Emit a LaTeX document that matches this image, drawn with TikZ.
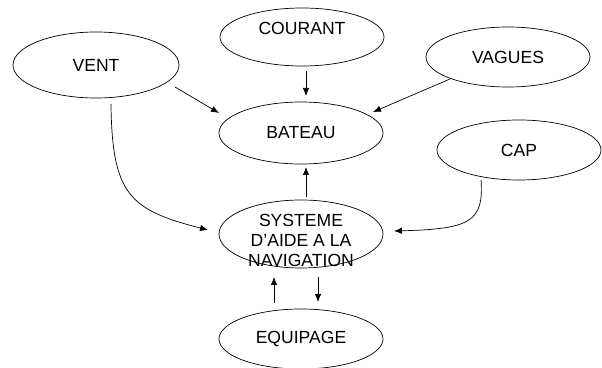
\documentclass[tikz,border=0pt]{standalone}
\usepackage{fontspec}
\setmainfont{Liberation Sans}
\usetikzlibrary{shapes.geometric,arrows.meta}
\begin{document}
\begin{tikzpicture}[x=0.25mm,y=-0.25mm,
  bubble/.style={ellipse,draw,line width=0.5pt,inner sep=0pt,minimum width=41mm,
    font=\fontsize{12.5}{14}\selectfont},
  >={Latex[length=2mm,width=1.6mm]},
  link/.style={->,line width=0.5pt}]
\useasboundingbox (0,0) rectangle (602,368);
\node[bubble,minimum height=14.5mm,label={[yshift=2.2mm,font=\fontsize{12.5}{14}\selectfont]center:COURANT}] (courant) at (302,37) {};
\node[bubble,minimum width=41.5mm,minimum height=16.5mm] (vent) at (96,65) {VENT};
\node[bubble,minimum height=15mm] (vagues) at (508,57) {VAGUES};
\node[bubble,minimum height=15.5mm] (bateau) at (301,133) {BATEAU};
\node[bubble,minimum height=15mm] (cap) at (519,150) {CAP};
\node[bubble,minimum height=17mm,label={[align=center,font=\fontsize{12.5}{14}\selectfont,yshift=-1.6mm]center:SYSTEME\\D'AIDE A LA\\NAVIGATION}] (systeme) at (301,234) {};
\node[bubble,minimum height=15mm] (equipage) at (301,339) {EQUIPAGE};
% free ends of the connectors
\coordinate (v1) at (175,87);   \coordinate (v2) at (219,113);
\coordinate (c1) at (306,71);   \coordinate (c2) at (306,96);
\coordinate (g1) at (450,79);   \coordinate (g2) at (373,112);
\coordinate (w1) at (111,104);  \coordinate (w2) at (208,230);
\coordinate (p1) at (481,180);  \coordinate (p2) at (394,231);
\coordinate (s1) at (306,197);  \coordinate (s2) at (306,167);
\coordinate (e1) at (274,303);  \coordinate (e2) at (274,277);
\coordinate (f1) at (318,277);  \coordinate (f2) at (318,302);
\draw[link] (v1) -- (v2);
\draw[link] (c1) -- (c2);
\draw[link] (g1) -- (g2);
\draw[link] (w1) .. controls (112,195) and (130,210) .. (w2);
\draw[link] (p1) .. controls (484,222) and (470,229) .. (p2);
\draw[link] (s1) -- (s2);
\draw[link] (e1) -- (e2);
\draw[link] (f1) -- (f2);
\end{tikzpicture}
\end{document}
